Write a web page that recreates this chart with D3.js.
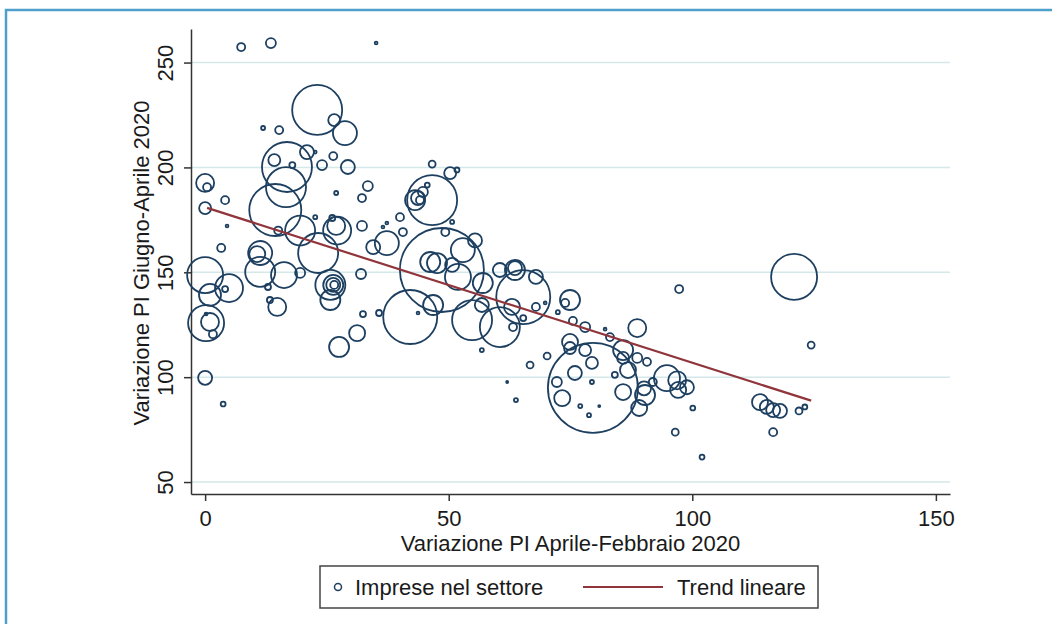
<!DOCTYPE html>
<html>
<head>
<meta charset="utf-8">
<script src="https://cdn.jsdelivr.net/npm/d3@7"></script>
<style>
  body { margin: 0; background: #fff; }
  svg { display: block; font-family: "Liberation Sans", Arial, sans-serif; }
</style>
</head>
<body>
<div id="chart"></div>
<script>
// Variazione PI Aprile-Febbraio 2020 (x), Giugno-Aprile 2020 (y), imprese nel settore (size)
const xVals = [7.4, 13.5, 35.1, 23.0, 26.5, 28.7, 11.9, 15.2, 16.8, 16.6,
  14.4, 14.2, 17.9, 20.9, 22.6, 24.0, 26.3, 29.3, 33.4, 26.9,
  32.2, 0, 0.4, 0, 4.1, 4.5, 3.3, 0, 1.0, 4.9,
  4.1, 0.2, 1.0, 1.6, 0.2, 0, 3.7, 12.9, 14.8, 13.3,
  16.2, 11.3, 19.5, 25.7, 26.3, 26.3, 26.5, 25.7, 27.5, 31.2,
  32.4, 35.7, 32.0, 42.1, 19.5, 15.0, 27.1, 26.9, 26.1, 22.6,
  32.2, 23.2, 11.3, 10.7, 34.5, 37.3, 36.5, 37.3, 40.0, 40.6,
  46.6, 50.3, 51.7, 46.6, 43.1, 43.7, 44.1, 44.7, 45.6, 49.3,
  50.7, 48.6, 55.4, 52.9, 46.2, 47.6, 50.7, 51.9, 57.0, 46.8,
  43.7, 54.8, 60.5, 56.8, 65.3, 63.0, 65.3, 63.2, 60.5, 63.6,
  63.6, 67.9, 67.9, 69.8, 56.8, 72.4, 73.9, 74.9, 75.5, 78.0,
  82.1, 88.7, 83.1, 74.9, 74.9, 78.0, 85.8, 85.8, 88.7, 90.7,
  86.8, 70.2, 66.7, 79.4, 75.9, 79.6, 72.2, 79.4, 62.0, 73.3,
  77.0, 80.9, 78.8, 85.8, 90.1, 90.3, 89.1, 84.1, 91.9, 94.8,
  96.9, 97.1, 98.9, 63.8, 100.1, 96.5, 102.0, 113.9, 115.3, 116.6,
  118.0, 116.6, 121.9, 123.1, 124.4, 120.9, 97.3];
const yVals = [257.4, 259.3, 259.3, 227.4, 222.6, 216.4, 218.8, 217.8, 200.2, 190.6,
  179.7, 203.5, 201.1, 207.3, 207.3, 201.1, 205.4, 200.2, 191.1, 187.8,
  185.4, 192.6, 190.6, 180.6, 184.4, 172.1, 161.6, 148.7, 139.2, 142.5,
  142.0, 125.8, 126.3, 120.5, 130.1, 99.7, 87.2, 143.0, 133.5, 136.8,
  148.7, 150.2, 149.7, 144.0, 144.0, 144.0, 144.0, 136.8, 114.4, 121.0,
  130.1, 130.6, 149.2, 128.7, 169.9, 169.9, 169.9, 172.1, 175.9, 176.3,
  172.1, 159.2, 159.2, 158.7, 162.0, 163.9, 171.6, 173.5, 176.3, 169.2,
  201.6, 197.3, 198.8, 184.4, 184.4, 185.4, 184.4, 188.3, 191.6, 169.2,
  174.0, 151.1, 165.2, 160.6, 154.9, 154.4, 153.5, 147.8, 144.9, 134.4,
  130.6, 127.2, 123.9, 134.4, 138.2, 133.5, 128.2, 123.9, 151.1, 151.1,
  152.0, 147.8, 133.5, 135.4, 112.9, 131.0, 135.4, 136.8, 126.8, 123.9,
  122.9, 123.4, 119.1, 116.8, 113.9, 112.9, 112.9, 109.2, 109.2, 107.3,
  103.4, 110.1, 105.8, 106.8, 102.0, 94.9, 97.7, 97.7, 97.7, 90.0,
  86.2, 86.2, 81.9, 92.9, 94.7, 91.5, 85.3, 101.1, 97.7, 99.5,
  98.5, 93.9, 95.2, 89.1, 85.3, 73.8, 61.9, 88.1, 85.8, 84.3,
  83.9, 73.8, 83.9, 85.8, 115.3, 147.8, 142.0];
const firms = [16, 25, 2, 625, 36, 144, 4, 16, 625, 400,
  676, 36, 9, 49, 2, 25, 16, 49, 25, 4,
  16, 81, 16, 36, 16, 2, 16, 324, 121, 196,
  9, 324, 81, 16, 2, 49, 6, 9, 81, 9,
  169, 225, 25, 225, 100, 49, 16, 100, 100, 64,
  9, 9, 25, 729, 225, 16, 196, 81, 9, 4,
  25, 400, 144, 64, 49, 144, 2, 2, 16, 16,
  12, 36, 6, 625, 100, 49, 16, 25, 6, 16,
  4, 1764, 49, 144, 100, 100, 49, 169, 100, 100,
  2, 400, 400, 49, 729, 64, 9, 16, 49, 100,
  49, 49, 16, 2, 4, 4, 16, 100, 16, 25,
  2, 81, 16, 64, 36, 36, 100, 36, 25, 16,
  64, 12, 12, 36, 49, 2025, 25, 4, 1, 64,
  4, 1, 4, 64, 49, 100, 64, 9, 16, 169,
  81, 64, 49, 4, 6, 12, 6, 64, 49, 49,
  49, 16, 12, 6, 12, 529, 16];

const xTicks = [0, 50, 100, 150];
const yTicks = [50, 100, 150, 200, 250];
// fitted trend, read at its two ends
const trendX = [0.4, 124.4];
const trendY = [180.7, 88.8];
const xTitle = "Variazione PI Aprile-Febbraio 2020";
const yTitle = "Variazione PI Giugno-Aprile 2020";
const legendLabels = ["Imprese nel settore", "Trend lineare"];

const navy = "#1d3f60";
const maroon = "#90353b";
const textColor = "#1a1a1a";

const svg = d3.select("#chart")
  .append("svg")
    .attr("width", 1052)
    .attr("height", 624);

// outer frame (only top and left edges visible)
svg.append("rect")
    .attr("x", 6)
    .attr("y", 10)
    .attr("width", 1080)
    .attr("height", 640)
    .attr("fill", "none")
    .attr("stroke", "#4f9fcb")
    .attr("stroke-width", 2.5);

// Scales
const xScale = d3.scaleLinear().domain([-2.9, 152.9]).range([191, 950]);
const yScale = d3.scaleLinear().domain([44.3, 266]).range([494, 29]);
const rScale = d3.scaleSqrt().domain([0, 100]).range([0, 10]);

// Grid lines
svg.append("g")
  .selectAll("line")
  .data(yTicks)
  .join("line")
    .attr("x1", 191)
    .attr("x2", 950)
    .attr("y1", d => yScale(d))
    .attr("y2", d => yScale(d))
    .attr("stroke", "#d4e7e9")
    .attr("stroke-width", 1.5);

// Axes
const xAxis = svg.append("g")
    .attr("transform", "translate(0,494)")
    .call(d3.axisBottom(xScale).tickValues(xTicks).tickSize(7).tickSizeOuter(0).tickPadding(9));

const yAxis = svg.append("g")
    .attr("transform", "translate(191,0)")
    .call(d3.axisLeft(yScale).tickValues(yTicks).tickSize(7).tickSizeOuter(0));

[xAxis, yAxis].forEach(ax => {
  ax.select(".domain").attr("stroke", "#333").attr("stroke-width", 1.5);
  ax.selectAll(".tick line").attr("stroke", "#333").attr("stroke-width", 1.5);
  ax.selectAll("text")
    .attr("fill", textColor)
    .style("font-size", "22px");
});

yAxis.selectAll("text")
    .attr("transform", "rotate(-90)")
    .attr("x", 0)
    .attr("y", -18)
    .attr("dy", 0)
    .attr("text-anchor", "middle");

// Bubbles
const sectors = xVals.map((v, i) => ({ x: v, y: yVals[i], n: firms[i] }));

svg.append("g")
  .selectAll("circle")
  .data(sectors)
  .join("circle")
    .attr("cx", d => xScale(d.x))
    .attr("cy", d => yScale(d.y))
    .attr("r", d => rScale(d.n))
    .attr("fill", "none")
    .attr("stroke", navy)
    .attr("stroke-width", 1.8);

// Trend line
const trend = trendX.map((v, i) => [v, trendY[i]]);
svg.append("path")
    .datum(trend)
    .attr("d", d3.line().x(d => xScale(d[0])).y(d => yScale(d[1])))
    .attr("fill", "none")
    .attr("stroke", maroon)
    .attr("stroke-width", 2.2);

// Axis titles
svg.append("text")
    .text(xTitle)
    .attr("x", 570.5)
    .attr("y", 551)
    .attr("text-anchor", "middle")
    .attr("fill", textColor)
    .style("font-size", "22px");

svg.append("text")
    .text(yTitle)
    .attr("transform", "translate(149,263) rotate(-90)")
    .attr("text-anchor", "middle")
    .attr("fill", textColor)
    .style("font-size", "22px");

// Legend
const legend = svg.append("g");
legend.append("rect")
    .attr("x", 320)
    .attr("y", 566)
    .attr("width", 498)
    .attr("height", 42)
    .attr("fill", "#fff")
    .attr("stroke", "#444")
    .attr("stroke-width", 1.5);
legend.append("circle")
    .attr("cx", 338)
    .attr("cy", 587)
    .attr("r", 3.5)
    .attr("fill", "none")
    .attr("stroke", navy)
    .attr("stroke-width", 1.5);
legend.append("text")
    .text(legendLabels[0])
    .attr("x", 355)
    .attr("y", 595)
    .attr("fill", textColor)
    .style("font-size", "22px");
legend.append("line")
    .attr("x1", 583)
    .attr("x2", 663)
    .attr("y1", 587)
    .attr("y2", 587)
    .attr("stroke", maroon)
    .attr("stroke-width", 2.2);
legend.append("text")
    .text(legendLabels[1])
    .attr("x", 677)
    .attr("y", 595)
    .attr("fill", textColor)
    .style("font-size", "22px");
</script>
</body>
</html>
